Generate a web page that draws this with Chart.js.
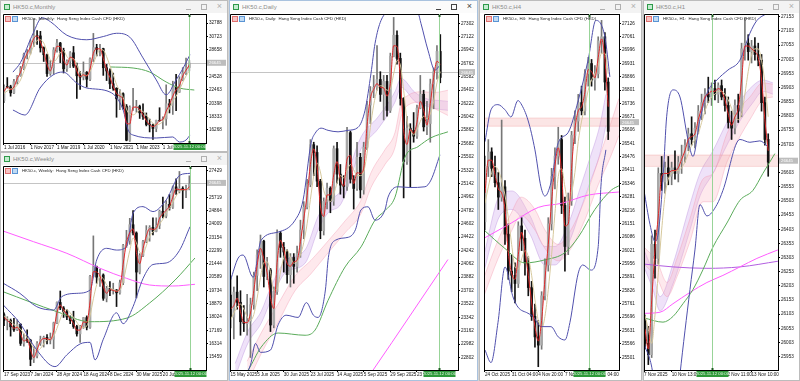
<!DOCTYPE html>
<html>
<head>
<meta charset="utf-8">
<title>HK50.c charts</title>
<script src="https://cdn.jsdelivr.net/npm/chart.js@4.4.1/dist/chart.umd.min.js"></script>
<style>
  html, body { margin: 0; padding: 0; }
  body { width: 800px; height: 381px; position: relative; overflow: hidden; background: #d4d4d4; font-family: "Liberation Sans", Arial, sans-serif; }
  .win { position: absolute; background: #fff; border: 1px solid #bcbcbc; box-sizing: border-box; }
  .win.active { border-color: #a9c2de; }
  .tb { position: absolute; left: 0; top: 0; right: 0; height: 12px; background: #f3f3f3; }
  .win.active .tb { background: #fbfbfb; }
  .tb .ic { position: absolute; left: 3px; top: 3px; width: 4px; height: 4px; border: 1px solid #2f9a4a; background: #c5ecd0; }
  .tb .tt { position: absolute; left: 12px; top: 2px; font-size: 6px; line-height: 8px; color: #8c8c8c; }
  .tb .mn { position: absolute; right: 36px; top: 8px; width: 5px; border-top: 1px solid #b0b0b0; }
  .tb .mx { position: absolute; right: 20px; top: 3px; width: 4px; height: 4px; border: 1px solid #b0b0b0; }
  .tb .cl { position: absolute; right: 5px; top: 0; font-size: 9px; line-height: 11px; color: #b0b0b0; }
  .win.active .tb .mn { border-color: #444; }
  .win.active .tb .mx { border-color: #444; }
  .win.active .tb .cl { color: #444; }
  canvas { position: absolute; }
  .tag { position: absolute; height: 6px; white-space: pre; font-size: 4.3px; line-height: 6px; color: #222; }
  .tag i { position: absolute; top: 0; width: 4px; height: 4px; }
  .tag .b1 { left: 0; background: #f7c3c3; border: 1px solid #e07070; }
  .tag .b2 { left: 7px; background: #c0daf3; border: 1px solid #5a94d4; }
  .tag span { position: absolute; left: 17px; top: 0; }
</style>
</head>
<body>

<div class="win" style="left:0;top:0;width:228px;height:152px">
  <div class="tb"><i class="ic"></i><span class="tt">HK50.c,Monthly</span><i class="mn"></i><i class="mx"></i><span class="cl">×</span></div>
</div>
<div class="win" style="left:0;top:152px;width:228px;height:229px">
  <div class="tb"><i class="ic"></i><span class="tt">HK50.c,Weekly</span><i class="mn"></i><i class="mx"></i><span class="cl">×</span></div>
</div>
<div class="win active" style="left:229px;top:0;width:249px;height:381px">
  <div class="tb"><i class="ic"></i><span class="tt">HK50.c,Daily</span><i class="mn"></i><i class="mx"></i><span class="cl">×</span></div>
</div>
<div class="win" style="left:479px;top:0;width:163px;height:381px">
  <div class="tb"><i class="ic"></i><span class="tt">HK50.c,H4</span><i class="mn"></i><i class="mx"></i><span class="cl">×</span></div>
</div>
<div class="win" style="left:643px;top:0;width:157px;height:381px">
  <div class="tb"><i class="ic"></i><span class="tt">HK50.c,H1</span><i class="mn"></i><i class="mx"></i><span class="cl">×</span></div>
</div>

<canvas id="cM" width="224" height="137" style="left:3px;top:14px"></canvas>
<canvas id="cW" width="224" height="213" style="left:3px;top:166px"></canvas>
<canvas id="cD" width="246" height="365" style="left:230px;top:14px"></canvas>
<canvas id="cH4" width="156" height="365" style="left:484px;top:14px"></canvas>
<canvas id="cH1" width="155" height="365" style="left:644px;top:14px"></canvas>

<div class="tag" style="left:5px;top:16px"><i class="b1"></i><i class="b2"></i><span>HK50.c, Monthly:  Hang Seng Index Cash CFD (HKD)</span></div>
<div class="tag" style="left:5px;top:168px"><i class="b1"></i><i class="b2"></i><span>HK50.c, Weekly:  Hang Seng Index Cash CFD (HKD)</span></div>
<div class="tag" style="left:232px;top:16px"><i class="b1"></i><i class="b2"></i><span>HK50.c, Daily:  Hang Seng Index Cash CFD (HKD)</span></div>
<div class="tag" style="left:486px;top:16px"><i class="b1"></i><i class="b2"></i><span>HK50.c, H4:  Hang Seng Index Cash CFD (HKD)</span></div>
<div class="tag" style="left:646px;top:16px"><i class="b1"></i><i class="b2"></i><span>HK50.c, H1:  Hang Seng Index Cash CFD (HKD)</span></div>

<script>
// ---- common ----
const lastPrice = 26645;
const cursorTime = "2025.11.12 00:00";
const zoneLow = 26625;
const zoneHigh = 26665;

// ---- Monthly (2-month candles, Jul 2016 - Nov 2025) ----
const mOpen = [20790,22980,22930,22000,23740,24615,25760,27970,28245,29920,30845,30800,28955,27890,24980,25845,28630,29700,28540,25720,26900,28190,26130,24640,24430,25180,24100,27230,28980,28720,28830,25880,25380,23400,22710,21090,21860,19955,14690,19780,19790,19895,18915,18380,17110,17050,16510,17760,17720,17990,20320,20060,22940,22120,24070,25080,25905];
const mHigh = [23260,24360,23180,24100,24700,26090,28130,28700,30200,33484,31600,31500,29100,28000,27000,29000,30280,29800,28900,27100,28380,29170,26600,25300,26780,25300,27400,31183,29500,29500,28900,26400,25700,25050,22800,22500,22000,20200,20000,22700,20850,20100,20300,18900,17950,17200,17800,19706,18300,23241,21000,23800,24874,24500,25900,27381,27000];
const mLow = [20500,22750,21490,21880,23350,24550,25600,27250,28000,29129,29500,28300,26850,24540,24700,24900,28300,26670,25070,25300,25900,25900,21139,22520,24000,22900,23900,26800,27700,27700,24700,23900,22660,22400,18235,19400,19500,14597,14500,19300,19000,18050,17900,16900,15970,14794,16000,17600,16440,17000,18900,18670,19260,22050,23900,24800,25400];
const mClose = [22980,22930,22000,23740,24615,25760,27970,28245,29920,30845,30800,28955,27890,24980,25845,28630,29700,28540,25720,26900,28190,26130,24640,24430,25180,24100,27230,28980,28720,28830,25880,25380,23400,22710,21090,21860,19955,14690,19780,19790,19895,18915,18380,17110,17050,16510,17760,17720,17990,20320,20060,22940,22120,24070,25080,25905,26600];
const mRed = [22200,22900,22500,22900,24200,25200,26900,28100,29100,30400,30800,29900,28400,26400,25400,27200,29200,29100,27100,26300,27500,27200,25400,24500,24800,24600,25700,28100,28800,28800,27300,25600,24400,23000,21900,21500,20900,17300,17200,19800,19800,19400,18600,17700,17100,16800,17100,17700,17900,19200,20200,21500,22500,23100,24600,25500,26300];
const mTan = [21900,22300,22600,22700,23200,24000,25300,26600,28000,29300,30100,30200,29700,28400,27100,26800,27300,28200,28500,27600,27200,27300,26300,25200,24700,24700,25300,26500,27800,28700,28600,27600,26200,24800,23300,22300,21300,19500,18700,18600,18900,19400,19100,18600,17900,17300,17100,17200,17600,18600,19600,20700,21500,22400,23600,24600,25400];
const mBandUp = [[2.7,25200],[5,26700],[8.8,31200],[11.5,33600],[14,33000],[19,30900],[25,30200],[30,30700],[34,31200],[38,30600],[42,27400],[46,24000],[49,21700],[52,24000],[54,25700],[56.2,27900]];
const mBandLo = [[2.7,19350],[6.3,18580],[10.9,22750],[14.8,24760],[17.8,25220],[22,23520],[25,22750],[32,22130],[36,19350],[37.5,16270],[39,15490],[46,15030],[51,15190],[53,14410],[55,14720],[56.2,15500]];
const mGreen = [[32,26000],[39,25840],[44,25220],[49,23680],[53,22750],[57.5,22440]];
const mYTicks = [16268,18333,20398,22463,24528,28658,30723,32788];
const mXTicks = [0,8,16,24,32,40,48];
const mXLabels = ["1 Jul 2016","1 Nov 2017","1 Mar 2019","1 Jul 2020","1 Nov 2021","1 Mar 2023","1 Jul 2024"];

// ---- Weekly (2-week candles, Sep 2023 - Nov 2025) ----
const wOpen = [18180,17810,17813,17398,17203,17559,16334,16624,16535,15309,15533,16340,16589,16721,16541,16600,17651,18964,18609,18367,18029,17800,17418,16946,17430,17989,17369,20632,21252,20590,20728,19230,19866,19720,19760,19584,20225,22620,22941,23959,23426,20915,21980,22867,23601,23792,23530,23916,24825,24508,25270,25077,26388,26128,26290,26160,26241];
const wHigh = [18300,18050,17900,17950,17850,17600,16950,17200,16600,16100,16450,16800,16800,16900,17000,17700,19000,19700,18700,18500,18100,18400,17500,17500,18000,18100,20700,23241,21300,21100,20800,20000,20300,20200,19800,20400,22700,23600,24370,24874,23500,22100,22950,23900,23900,24400,24400,24900,25735,25500,25900,26450,26900,27381,26400,26500,27100];
const wLow = [17480,17200,16800,17100,17150,16200,16150,16400,14900,15100,15400,16200,16100,16300,16300,16000,17600,18500,18000,17850,17600,17300,16800,16400,17300,17200,17300,20600,20200,20000,19100,19000,19400,19500,18700,19500,20100,22500,22700,23300,19260,20800,21900,22800,22900,23300,23500,23700,24400,24400,24900,25000,25900,26000,25000,25700,26200];
const wClose = [17810,17813,17398,17203,17559,16334,16624,16535,15309,15533,16340,16589,16721,16541,16600,17651,18964,18609,18367,18029,17800,17418,16946,17430,17989,17369,20632,21252,20590,20728,19230,19866,19720,19760,19584,20225,22620,22941,23959,23426,20915,21980,22867,23601,23792,23530,23916,24825,24508,25270,25077,26388,26128,26290,26160,26241,26572];
const wRed = [18000,17810,17600,17300,17380,16950,16480,16580,15920,15420,15940,16460,16650,16630,16570,17130,18300,18790,18490,18200,17920,17610,17180,17190,17710,17680,19000,20940,20920,20660,19980,19550,19790,19740,19670,19900,21420,22780,23450,23690,22170,21450,22420,23230,23700,23660,23720,24370,24670,24890,25170,25730,26260,26210,26220,26200,26400];
const wTan = [18100,17950,17750,17550,17400,17250,16950,16700,16400,16000,15850,16000,16300,16550,16620,16800,17300,17900,18400,18500,18300,18000,17700,17400,17350,17450,18100,19200,20100,20600,20500,20100,19900,19800,19700,19750,20300,21300,22300,23100,22800,22200,22100,22600,23200,23500,23700,24000,24300,24700,25000,25400,25800,26100,26200,26220,26300];
const wBandUp = [[-0.2,20195],[4.8,19550],[9.9,18690],[15,18480],[17.4,19330],[22,19550],[26,19760],[28,21690],[31,22440],[34,22330],[37,22550],[39,24690],[42,25120],[45,24800],[49,25550],[53.2,27150],[56.2,27260]];
const wBandLo = [[-0.2,18800],[4.8,17630],[9.9,15910],[15.4,14840],[19,15600],[23,16300],[26,16400],[27.5,15270],[30,16600],[34,18300],[36,17600],[39,18700],[42,20500],[45,21400],[49,21500],[53,22300],[56.2,23830]];
const wGreen = [[-0.3,19655],[16,18370],[26,17727],[37.2,17965],[44,18930],[51.7,20406],[57.7,21820]];
const wMagenta = [[-0.3,23555],[8.9,22870],[19,22120],[29,21160],[37,20515],[44,20085],[51,20020],[57.7,20130]];
const wYTicks = [15459,16314,17169,18024,18879,19734,20589,21444,22299,23154,24009,24864,25719,27429];
const wXTicks = [0,8,16,24,32,40,48];
const wXLabels = ["17 Sep 2023","7 Jan 2024","28 Apr 2024","18 Aug 2024","8 Dec 2024","30 Mar 2025","20 Jul 2025"];

// ---- Daily (2-day candles, May - Nov 2025) ----
const dOpen = [23640,23345,23681,23544,23282,23258,23290,23512,23907,24181,24367,23892,23980,23238,23689,24475,24284,24221,23916,24148,24028,24203,24518,24826,25130,25667,25562,25176,24508,24902,25081,24906,25613,25270,25122,25105,25829,25201,25077,25497,25058,25633,26200,26388,26438,26545,26344,26519,26128,26856,27141,26829,26290,25441,25889,25859,25781,26160,26346,25907,25952,26485,26649,26923];
const dHigh = [23900,23750,23900,23700,23500,23650,23600,23950,24250,24450,24380,24150,24000,23750,24520,24500,24350,24250,24200,24200,24300,24650,24900,25200,25735,25700,25650,25200,24950,25150,25100,25650,25700,25400,25250,25900,25850,25250,25700,25550,25700,26250,26450,26600,27000,26650,26600,26600,26900,27381,27200,26900,26300,26050,25950,26100,26200,26600,26400,26250,26550,26700,27000,27150];
const dLow = [23200,23050,23450,23100,23150,23100,22800,23450,23700,24000,23750,23850,23150,23200,23650,24150,23950,23800,23750,23800,23950,24150,24400,24800,25100,25250,25100,24400,24450,24800,24750,24850,25150,25000,24950,25050,25150,24800,25050,24950,25000,25600,25950,26300,26400,26250,26000,26050,26100,26850,26750,26200,24950,25400,25100,25700,25750,26150,25850,25800,25700,26150,26550,26500];
const dClose = [23345,23681,23544,23282,23258,23290,23512,23907,24181,24367,23892,23980,23238,23689,24475,24284,24221,23916,24148,24028,24203,24518,24826,25130,25667,25562,25176,24508,24902,25081,24906,25613,25270,25122,25105,25829,25201,25077,25497,25058,25633,26200,26388,26438,26545,26344,26519,26128,26856,27141,26829,26290,25441,25889,25859,25781,26160,26346,25907,25952,26485,26649,26923,26572];
const dRed = [23450,23500,23600,23420,23270,23270,23400,23700,24040,24270,24130,23940,23610,23460,24080,24380,24250,24070,24030,24090,24110,24360,24670,24980,25400,25610,25370,24840,24700,24990,24990,25260,25440,25200,25110,25470,25520,25140,25290,25280,25350,25920,26290,26410,26490,26440,26430,26320,26490,27000,26990,26560,25870,25670,25870,25820,25970,26250,26130,25930,26220,26570,26790,26750];
const dTan = [23300,23400,23480,23520,23450,23350,23300,23380,23600,23880,24080,24090,23950,23700,23720,23950,24150,24250,24150,24070,24090,24180,24350,24600,24930,25250,25420,25300,25050,24950,24900,25000,25150,25250,25220,25320,25400,25330,25250,25250,25300,25550,25900,26200,26400,26460,26450,26400,26420,26620,26800,26740,26400,26000,25870,25800,25870,25980,26050,26020,26080,26250,26500,26650];
const dBandUp = [[0,23840],[2.3,24140],[3.8,24180],[6.8,23880],[9.2,24380],[14.3,24490],[19.4,24650],[21.8,24920],[24.2,25690],[25.4,25820],[27.2,25890],[29.3,25860],[32.3,25840],[35.3,25860],[38.3,25900],[40.4,26130],[42.2,26630],[43.4,27030],[45.2,27340],[48.2,27480],[51.2,27520],[56.3,27440],[57.2,27300],[59.3,26940],[61.4,26670],[62.9,26740]];
const dBandLo = [[0,22600],[3,22500],[6,22700],[7.5,22990],[9,22870],[12,22900],[14.3,23240],[16.7,23370],[20.3,23340],[22.8,23540],[24.9,23370],[26.3,23340],[28.5,23710],[29.4,24150],[31.5,24380],[35.4,24420],[37.5,24520],[39.2,24790],[41.3,24830],[43.4,24650],[46.4,24790],[47.3,24960],[50.3,25100],[53.9,25090],[58.4,25100],[60.2,25190],[62.9,25530]];
const dGreen = [[2,22450],[5.3,22630],[9.2,22940],[14.3,23130],[22.4,23100],[25.4,23170],[29.3,23570],[34.4,24020],[39.2,24290],[43.4,24650],[46.4,24780],[49.4,24960],[52.4,25500],[56.3,25640],[60.2,25760],[65.3,25840]];
const dMagenta = [[40,22450],[42.8,22630],[65.3,24120]];
const dPinkX = [5,9.2,14.3,19.4,24.2,29.3,34.4,39.2,42.2,46.4,49.4,51.2,53.3,57.2,61.4,65.3];
const dPinkTop = [22750,23130,23520,23900,24110,24370,24640,24920,25290,25600,25830,26220,26330,26380,26370,26400];
const dPinkBot = [22450,22850,23270,23700,23930,24210,24480,24740,25090,25400,25630,26040,26200,26240,26150,26060];
const dVioX = [1.4,5.3,9.2,12.2,16.4,22.4,26.3,29.3,33.2,39.2,44.3,49.4,51.2,55.4,59.3,63.2,65.3];
const dVioTop = [22720,23160,23420,23760,24100,24250,24700,24910,25050,25770,26040,26380,26560,26370,26280,26260,26250];
const dVioBot = [22540,23000,23260,23580,23940,24070,24520,24750,24870,25610,25880,26240,26440,26250,26180,26140,26130];
const dYTicks = [22802,22982,23162,23342,23522,23702,23882,24062,24242,24422,24602,24782,24962,25142,25322,25502,25682,25862,26042,26222,26402,26582,26762,26942,27122,27302];
const dXTicks = [0,8,16,24,32,40,48,56];
const dXLabels = ["15 May 2025","5 Jun 2025","30 Jun 2025","23 Jul 2025","14 Aug 2025","5 Sep 2025","29 Sep 2025","23 Oct 2025"];

// ---- H4 (8-hour candles, 24 Oct - 14 Nov 2025) ----
const h4Open = [26160,26430,26500,26420,26350,26280,26330,26100,25920,25900,25860,26140,26080,25960,25840,25700,25600,25560,25800,25950,26150,26380,26480,26560,26240,26040,26260,26580,26650,26740,26700,26880,26930,26850,26880,27040,27060,26840];
const h4High = [26480,26560,26520,26480,26400,26655,26360,26150,26000,25960,26160,26180,26120,25990,25870,25760,25680,25820,25980,26180,26420,26520,26620,26580,26280,26300,26600,26700,26780,26820,26900,26960,26950,26920,27060,27140,27080,26860];
const h4Low = [26120,26380,26380,26330,26220,26260,26050,25880,25820,25765,25840,26020,25900,25800,25680,25550,25455,25540,25780,25920,26120,26320,26440,26200,25920,26000,26240,26540,26600,26680,26680,26820,26820,26800,26860,26980,26800,26560];
const h4Close = [26430,26500,26420,26350,26280,26330,26100,25920,25900,25860,26140,26080,25960,25840,25700,25600,25560,25800,25950,26150,26380,26480,26560,26240,26040,26260,26580,26650,26740,26700,26880,26930,26850,26880,27040,27060,26840,26600];
const h4Red = [26300,26460,26460,26390,26320,26300,26220,26010,25910,25880,26000,26110,26020,25900,25770,25650,25580,25680,25880,26050,26260,26430,26520,26400,26140,26150,26420,26610,26700,26720,26790,26900,26890,26860,26960,27050,26950,26720];
const h4Tan = [26250,26330,26400,26430,26410,26360,26290,26180,26050,25940,25930,25980,26020,25990,25900,25780,25680,25640,25700,25830,26000,26200,26380,26420,26330,26250,26300,26400,26550,26650,26720,26800,26850,26880,26920,26980,26980,26880];
const h4BandUp = [[0,26550],[1.8,26705],[3.9,26730],[6,26705],[7.8,26670],[9.9,26750],[10.8,26735],[12.9,26655],[15,26510],[16.8,26330],[18,26285],[19.8,26350],[22,26545],[25,26595],[28,26750],[31,26950],[33.3,27140],[36,27060],[37.5,26865]];
const h4BandLo = [[0,25536],[1.8,25475],[3.9,25670],[6,25940],[8.4,25795],[9.9,25745],[12.9,25715],[14.4,25700],[16.8,25650],[19.8,25650],[22,25600],[24,25585],[25.5,25670],[28,25910],[29.4,25950],[31.8,25925],[34,26040],[34.8,26330],[36.3,26510]];
const h4Magenta = [[-0.3,26080],[8,26155],[16,26230],[23,26250],[31,26290],[40.2,26305]];
const h4Green = [[-0.3,26120],[6,26030],[12,25960],[18,25975],[24,26010],[28,26085],[33,26220],[38,26315],[40.2,26335]];
const h4VioX = [-0.3,4.5,8.1,13.5,18,21,25.5,28.5,31.5,34.5,36.3];
const h4VioTop = [26000,26290,26310,26190,26040,26040,26170,26320,26470,26630,26780];
const h4VioBot = [25920,26190,26220,26100,25950,25950,26070,26210,26350,26490,26630];
const h4PinkX = [-0.3,3.9,7.8,10.8,15,18,22,25.8,30,34,37.8,40.2];
const h4PinkTop = [25890,26070,26200,26280,26220,26120,26050,26120,26270,26460,26640,26760];
const h4PinkBot = [25800,25980,26110,26190,26120,26030,25970,26030,26170,26340,26480,26580];
const h4YTicks = [25501,25566,25631,25696,25761,25826,25891,25956,26021,26086,26151,26216,26281,26346,26411,26476,26541,26606,26671,26736,26801,26866,26931,26996,27061,27126];
const h4XTicks = [0,8,16,24,32];
const h4XLabels = ["24 Oct 2025","31 Oct 04:00","4 Nov 20:00","7 Nov 12:00","12 Nov 04:00"];

// ---- H1 (2-hour candles, 7 - 14 Nov 2025) ----
const h1Open = [26080,26000,25960,26350,26300,26600,26570,26620,26590,26620,26600,26640,26660,26700,26740,26720,26760,26820,26850,26880,26870,26900,26880,26910,26870,26840,26780,26760,26840,26820,27040,27060,27030,27050,27020,27000,26850,26720];
const h1High = [26100,26060,26380,26400,26620,26660,26640,26660,26640,26680,26660,26700,26720,26760,26800,26780,26840,26880,26900,26940,26920,26930,26920,26930,26900,26870,26820,26860,26880,27060,27150,27090,27070,27080,27060,27020,26870,26740];
const h1Low = [25980,25925,25950,26230,26280,26540,26530,26560,26560,26580,26570,26600,26640,26680,26700,26690,26740,26790,26810,26850,26840,26860,26850,26860,26820,26760,26720,26740,26780,26800,27000,27000,26990,27000,26980,26820,26700,26590];
const h1Close = [26000,25960,26350,26300,26600,26570,26620,26590,26620,26600,26640,26660,26700,26740,26720,26760,26820,26850,26880,26870,26900,26880,26910,26870,26840,26780,26760,26840,26820,27040,27060,27030,27050,27020,27000,26850,26720,26640];
const h1Red = [26050,25980,26150,26330,26450,26590,26600,26600,26610,26610,26620,26650,26680,26720,26730,26740,26790,26830,26870,26880,26890,26890,26900,26890,26860,26810,26770,26800,26830,26930,27050,27050,27040,27030,27010,26930,26790,26680];
const h1Tan = [26100,26050,26000,26100,26250,26400,26520,26580,26600,26610,26610,26620,26640,26670,26700,26720,26740,26780,26820,26850,26870,26880,26890,26890,26880,26860,26830,26800,26790,26810,26880,26960,27020,27040,27040,27000,26920,26800];
const h1BandUp = [[-0.3,26540],[1.5,26420],[3,26360],[4,26390],[5.5,26600],[6.5,26800],[8.4,26895],[10.5,26870],[12.9,26720],[14.4,26660],[16.5,26790],[18.6,26883],[21.6,26930],[24.9,26965],[28.5,27000],[31.5,27095],[33.6,27140],[36.6,27165]];
const h1BandLo = [[-0.3,26000],[2.4,25890],[4,25700],[8,25600],[10.5,25890],[13.5,26190],[15,26330],[16.5,26490],[18.6,26450],[21.6,26490],[23.4,26540],[28.5,26720],[31.5,26710],[34.5,26715],[36.9,26695]];
const h1Violet = [[-0.3,26280],[8.4,26270],[18.6,26265],[28.5,26270],[39.9,26290]];
const h1Magenta = [[-0.3,26106],[4.5,26110],[8.4,26140],[13.5,26180],[18.6,26215],[23.4,26240],[28.5,26270],[33.6,26300],[39.9,26330]];
const h1Green = [[-0.3,26090],[5.4,26075],[8.4,26095],[11.4,26140],[14.4,26190],[17.4,26260],[20.4,26340],[24.6,26425],[28.5,26505],[32.4,26540],[35.4,26600],[39,26670]];
const h1PinkX = [-0.3,3.6,6.6,9.6,13.5,17.4,20.4,24.6,28.5,31.5,35.4,38.4];
const h1PinkTop = [26340,26290,26215,26300,26440,26580,26600,26740,26830,26870,26920,26915];
const h1PinkBot = [26280,26230,26165,26235,26360,26500,26500,26640,26730,26790,26860,26870];
const h1VioX = [-0.3,2.4,4.5,8.4,13.5,16.5,20.4,24.6,28.5,32.4,35.4,38.4];
const h1VioTop = [26330,26250,26165,26280,26490,26600,26680,26780,26855,26910,26930,26920];
const h1VioBot = [26270,26190,26115,26210,26400,26520,26600,26700,26785,26850,26890,26880];
const h1YTicks = [25953,26003,26053,26103,26153,26203,26253,26303,26353,26403,26453,26503,26553,26603,26703,26753,26803,26853,26903,26953,27003,27053,27103,27153];
const h1XTicks = [-0.3,8,16,24,32];
const h1XLabels = ["7 Nov 2025","10 Nov 13:00","11 Nov 12:00","12 Nov 11:00","13 Nov 10:00"];

// ---- drawing ----
Chart.defaults.font.family = '"Liberation Sans", Arial, sans-serif';

const BLUE = "#5050ad";
const RED = "#e02828";
const TAN = "#d6c89c";
const GREEN = "#5aab5a";
const MAGENTA = "#ff5cff";
const VIOLET = "#b25ee0";
const PINK_LINE = "rgba(240,140,165,0.35)";
const PINK_FILL = "rgba(250,175,192,0.28)";
const VIO_LINE = "rgba(175,125,215,0.35)";
const VIO_FILL = "rgba(205,165,235,0.32)";

function line(points, color, order) {
  return {
    type: "line",
    data: points,
    borderColor: color,
    borderWidth: 1,
    pointRadius: 0,
    cubicInterpolationMode: "monotone",
    fill: false,
    order: order || 2,
  };
}
const pairs = (arr) => arr.map((p) => ({ x: p[0], y: p[1] }));
const byIndex = (arr) => arr.map((v, i) => ({ x: i, y: v }));

function band(xs, top, bot, stroke, fillColor) {
  const upper = line(xs.map((x, i) => ({ x: x, y: top[i] })), stroke, 9);
  const lower = line(xs.map((x, i) => ({ x: x, y: bot[i] })), stroke, 9);
  lower.fill = "-1";
  lower.backgroundColor = fillColor;
  return [upper, lower];
}

function candles(open, high, low, close) {
  const up = (i) => close[i] >= open[i];
  return [
    {
      type: "bar",
      data: close.map((c, i) => ({ x: i, y: [low[i], high[i]] })),
      grouped: false,
      barThickness: 1,
      backgroundColor: (ctx) => (up(ctx.dataIndex) ? "#777" : "#111"),
      order: 6,
    },
    {
      type: "bar",
      data: close.map((c, i) => ({ x: i, y: [open[i], c] })),
      grouped: false,
      barThickness: 2,
      backgroundColor: (ctx) => (up(ctx.dataIndex) ? "#a8a8a8" : "#111"),
      order: 5,
    },
  ];
}

// MT4 style frame, price line, cursor line and the little axis boxes
const mtFrame = {
  id: "mtFrame",
  beforeDatasetsDraw(chart, args, opts) {
    if (!opts.priceLine) return;
    const { ctx, chartArea: a, scales } = chart;
    const py = Math.round(scales.y.getPixelForValue(lastPrice)) + 0.5;
    ctx.save();
    ctx.strokeStyle = "#c4c4c4";
    ctx.lineWidth = 1;
    ctx.beginPath();
    ctx.moveTo(a.left, py);
    ctx.lineTo(a.right, py);
    ctx.stroke();
    ctx.restore();
  },
  afterDraw(chart, args, opts) {
    const { ctx, chartArea: a, scales } = chart;
    ctx.save();
    ctx.strokeStyle = "#000";
    ctx.lineWidth = 1;
    ctx.beginPath();
    ctx.moveTo(a.left + 0.5, a.bottom);
    ctx.lineTo(a.left + 0.5, a.top + 0.5);
    ctx.lineTo(a.right, a.top + 0.5);
    ctx.stroke();

    const gx = Math.round(scales.x.getPixelForValue(opts.cursor)) + 0.5;
    ctx.strokeStyle = "#98d498";
    ctx.beginPath();
    ctx.moveTo(gx, a.top);
    ctx.lineTo(gx, a.bottom);
    ctx.stroke();
    ctx.fillStyle = "#1f5a22";
    ctx.fillRect(gx - 1, a.top + 1, 2, 2);
    ctx.fillRect(gx - 1, a.bottom - 2, 2, 2);

    ctx.font = '4.3px "Liberation Sans", Arial, sans-serif';
    ctx.textBaseline = "middle";
    ctx.fillStyle = "#2f9a3a";
    ctx.fillRect(gx - 16, a.bottom + 1, 32, 6);
    ctx.fillStyle = "#eaf7ea";
    ctx.textAlign = "center";
    ctx.fillText(cursorTime, gx, a.bottom + 4);

    const py = scales.y.getPixelForValue(lastPrice);
    ctx.fillStyle = "#bdbdbd";
    ctx.fillRect(a.right + 1, py - 3, chart.width - a.right - 2, 6);
    ctx.fillStyle = "#fff";
    ctx.textAlign = "left";
    ctx.fillText(String(lastPrice), a.right + 3, py + 0.3);
    ctx.restore();
  },
};

function drawPane(p) {
  const datasets = [];
  if (p.zone) {
    datasets.push(...band([p.xMin, p.xMax], [zoneHigh, zoneHigh], [zoneLow, zoneLow], "rgba(236,140,140,0.3)", "rgba(242,170,170,0.3)"));
  }
  (p.bands || []).forEach((b) => datasets.push(...band(b[0], b[1], b[2], b[3], b[4])));
  datasets.push(...candles(p.open, p.high, p.low, p.close));
  (p.lines || []).forEach((l) => datasets.push(line(pairs(l[0]), l[1], 3)));
  datasets.push(line(pairs(p.bandUp), BLUE, 2));
  datasets.push(line(pairs(p.bandLo), BLUE, 2));
  datasets.push(line(byIndex(p.tan), TAN, 2));
  datasets.push(line(byIndex(p.red), RED, 1));

  const font = { size: 4.6 };
  return new Chart(document.getElementById(p.id), {
    type: "bar",
    data: { datasets: datasets },
    options: {
      responsive: false,
      animation: false,
      events: [],
      layout: { padding: 0 },
      plugins: {
        legend: { display: false },
        tooltip: { enabled: false },
        mtFrame: { cursor: p.cursor, priceLine: !p.zone },
      },
      scales: {
        x: {
          type: "linear",
          min: p.xMin,
          max: p.xMax,
          offset: false,
          afterBuildTicks: (s) => { s.ticks = p.xTicks.map((v) => ({ value: v })); },
          afterFit: (s) => { s.height = p.xH; s.paddingLeft = 0; s.paddingRight = 0; },
          ticks: { autoSkip: false, maxRotation: 0, align: "start", padding: 0, color: "#111", font: font,
                   callback: (v, i) => p.xLabels[i] },
          grid: { offset: false, drawOnChartArea: false, tickLength: 2, color: "#000" },
          border: { display: true, color: "#000" },
        },
        y: {
          type: "linear",
          position: "right",
          min: p.yMin,
          max: p.yMax,
          afterBuildTicks: (s) => { s.ticks = p.yTicks.map((v) => ({ value: v })); },
          afterFit: (s) => { s.width = p.yW; s.paddingTop = 0; s.paddingBottom = 0; },
          ticks: { padding: 1, color: "#111", font: font, callback: (v) => String(v) },
          grid: { drawOnChartArea: false, tickLength: 2, color: "#000" },
          border: { display: true, color: "#000" },
        },
      },
    },
    plugins: [mtFrame],
  });
}

drawPane({
  id: "cM", open: mOpen, high: mHigh, low: mLow, close: mClose, red: mRed, tan: mTan,
  bandUp: mBandUp, bandLo: mBandLo, lines: [[mGreen, GREEN]],
  xMin: -0.3, xMax: 61.03, yMin: 14260, yMax: 34178, xTicks: mXTicks, xLabels: mXLabels, yTicks: mYTicks,
  cursor: 56, yW: 21, xH: 8,
});

drawPane({
  id: "cW", open: wOpen, high: wHigh, low: wLow, close: wClose, red: wRed, tan: wTan,
  bandUp: wBandUp, bandLo: wBandLo, lines: [[wGreen, GREEN], [wMagenta, MAGENTA]],
  xMin: -0.3, xMax: 61.03, yMin: 14624, yMax: 27731, xTicks: wXTicks, xLabels: wXLabels, yTicks: wYTicks,
  cursor: 56.2, yW: 21, xH: 9,
});

drawPane({
  id: "cD", open: dOpen, high: dHigh, low: dLow, close: dClose, red: dRed, tan: dTan,
  bandUp: dBandUp, bandLo: dBandLo, lines: [[dGreen, GREEN], [dMagenta, MAGENTA]],
  bands: [[dPinkX, dPinkTop, dPinkBot, PINK_LINE, PINK_FILL], [dVioX, dVioTop, dVioBot, VIO_LINE, VIO_FILL]],
  xMin: -0.15, xMax: 68.32, yMin: 22632, yMax: 27427, xTicks: dXTicks, xLabels: dXLabels, yTicks: dYTicks,
  cursor: 62.7, yW: 18, xH: 9,
});

drawPane({
  id: "cH4", open: h4Open, high: h4High, low: h4Low, close: h4Close, red: h4Red, tan: h4Tan,
  bandUp: h4BandUp, bandLo: h4BandLo, lines: [[h4Green, GREEN], [h4Magenta, MAGENTA]],
  bands: [[h4PinkX, h4PinkTop, h4PinkBot, PINK_LINE, PINK_FILL], [h4VioX, h4VioTop, h4VioBot, VIO_LINE, VIO_FILL]],
  zone: true,
  xMin: -0.3, xMax: 40.24, yMin: 25439, yMax: 27171, xTicks: h4XTicks, xLabels: h4XLabels, yTicks: h4YTicks,
  cursor: 31.2, yW: 21, xH: 9,
});

drawPane({
  id: "cH1", open: h1Open, high: h1High, low: h1Low, close: h1Close, red: h1Red, tan: h1Tan,
  bandUp: h1BandUp, bandLo: h1BandLo, lines: [[h1Green, GREEN], [h1Magenta, MAGENTA], [h1Violet, VIOLET]],
  bands: [[h1PinkX, h1PinkTop, h1PinkBot, PINK_LINE, PINK_FILL], [h1VioX, h1VioTop, h1VioBot, VIO_LINE, VIO_FILL]],
  zone: true,
  xMin: -0.3, xMax: 39.94, yMin: 25906, yMax: 27163, xTicks: h1XTicks, xLabels: h1XLabels, yTicks: h1YTicks,
  cursor: 20.1, yW: 21, xH: 9,
});
</script>
</body>
</html>
